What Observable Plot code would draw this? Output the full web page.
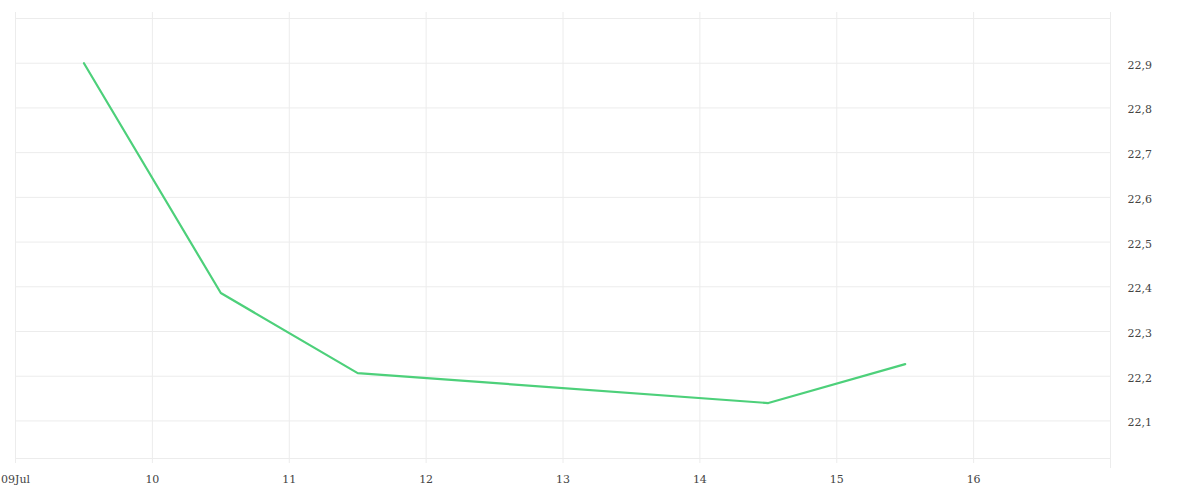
<!DOCTYPE html>
<html>
<head>
<meta charset="utf-8">
<script src="https://cdn.jsdelivr.net/npm/d3@7"></script>
<script src="https://cdn.jsdelivr.net/npm/@observablehq/plot@0.6"></script>
<style>
  html, body { margin: 0; padding: 0; background: #fff; }
  #chart { width: 1200px; height: 500px; }
</style>
</head>
<body>
<div id="chart"></div>
<script>
// Data
const dates = ["2024-07-09T12:00", "2024-07-10T12:00", "2024-07-11T12:00", "2024-07-14T12:00", "2024-07-15T12:00"];
const values = [22.9, 22.386, 22.207, 22.14, 22.227];

const xTickDates = ["2024-07-09", "2024-07-10", "2024-07-11", "2024-07-12", "2024-07-13", "2024-07-14", "2024-07-15", "2024-07-16"];
const xTickLabels = ["09Jul", "10", "11", "12", "13", "14", "15", "16"];
const xDomain = ["2024-07-09", "2024-07-17"];
const yTicks = [22.1, 22.2, 22.3, 22.4, 22.5, 22.6, 22.7, 22.8, 22.9];
const yTickLabels = ["22,1", "22,2", "22,3", "22,4", "22,5", "22,6", "22,7", "22,8", "22,9"];
const yGrid = [22.1, 22.2, 22.3, 22.4, 22.5, 22.6, 22.7, 22.8, 22.9, 23.0];
const yDomain = [22.016, 23.0];

const data = dates.map((d, i) => ({date: new Date(d), value: values[i]}));
const xt = xTickDates.map(d => new Date(d));
const xGridDays = [...xt, new Date(xDomain[1])];
const labelMap = new Map(xt.map((d, i) => [+d, xTickLabels[i]]));
const yLabelMap = new Map(yTicks.map((v, i) => [v, yTickLabels[i]]));

const grid = "#ececec";

const chart = Plot.plot({
  width: 1200,
  height: 500,
  marginLeft: 15,
  marginRight: 90,
  marginTop: 18,
  marginBottom: 42,
  style: {fontFamily: "'DejaVu Serif', serif", fontSize: "11px", color: "#444", background: "#fff"},
  x: {type: "utc", domain: xDomain.map(d => new Date(d))},
  y: {domain: yDomain},
  marks: [
    Plot.ruleY(yGrid, {stroke: grid, strokeWidth: 1}),
    Plot.ruleY([yDomain[0]], {stroke: grid, strokeWidth: 1}),
    Plot.ruleX(xGridDays.slice(0, -1), {stroke: grid, strokeWidth: 1, insetTop: -6, insetBottom: -5}),
    Plot.ruleX(xGridDays.slice(-1), {stroke: grid, strokeWidth: 1, insetTop: -6, insetBottom: -10}),
    Plot.axisX(xt, {tickSize: 0, tickPadding: 17, tickFormat: d => labelMap.get(+d), fill: "#444"}),
    Plot.axisY(yTicks, {anchor: "right", tickSize: 0, tickPadding: 17, dy: 2, textAnchor: "start", tickFormat: v => yLabelMap.get(v), fill: "#444", label: null}),
    Plot.line(data, {x: "date", y: "value", stroke: "#4dd07a", strokeWidth: 2.2})
  ]
});
document.getElementById("chart").appendChild(chart);
</script>
</body>
</html>
